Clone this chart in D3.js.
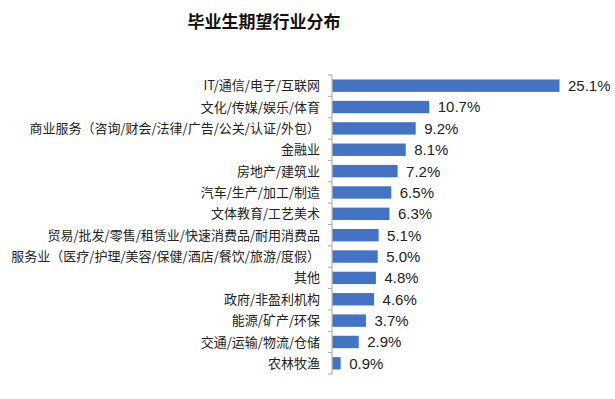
<!DOCTYPE html>
<html>
<head>
<meta charset="utf-8">
<script src="https://cdn.jsdelivr.net/npm/d3@7"></script>
<style>
  body { margin: 0; background: #fff; }
  text { font-family: "Noto Sans CJK SC", "Liberation Sans", sans-serif; }
</style>
</head>
<body>
<div class="graph"></div>
<script>
var categories = [
    'IT/通信/电子/互联网',
    '文化/传媒/娱乐/体育',
    '商业服务（咨询/财会/法律/广告/公关/认证/外包）',
    '金融业',
    '房地产/建筑业',
    '汽车/生产/加工/制造',
    '文体教育/工艺美术',
    '贸易/批发/零售/租赁业/快速消费品/耐用消费品',
    '服务业（医疗/护理/美容/保健/酒店/餐饮/旅游/度假）',
    '其他',
    '政府/非盈利机构',
    '能源/矿产/环保',
    '交通/运输/物流/仓储',
    '农林牧渔'
];
var values = [25.1, 10.7, 9.2, 8.1, 7.2, 6.5, 6.3, 5.1, 5.0, 4.8, 4.6, 3.7, 2.9, 0.9];
var title = '毕业生期望行业分布';

var width = 615, height = 399;
var axisX = 332, plotTop = 75, plotBottom = 374;

var svg = d3.select('.graph').append('svg')
    .attr('width', width)
    .attr('height', height);

svg.append('text')
    .attr('x', 264)
    .attr('y', 28)
    .attr('text-anchor', 'middle')
    .attr('font-size', 17)
    .attr('font-weight', 'bold')
    .attr('fill', '#111')
    .text(title);

var xScale = d3.scaleLinear()
    .domain([0, 25.1])
    .range([axisX, 559]);

var yScale = d3.scaleBand()
    .domain(categories)
    .range([plotTop, plotBottom])
    .paddingInner(0.42)
    .paddingOuter(0.21);

// axis line with ticks between categories
var boundaries = d3.range(categories.length + 1).map(function(i) {
    return plotTop + i * (plotBottom - plotTop) / categories.length;
});

svg.append('line')
    .attr('x1', axisX).attr('x2', axisX)
    .attr('y1', plotTop).attr('y2', plotBottom)
    .attr('stroke', '#a6a6a6');

svg.selectAll('.tick')
    .data(boundaries)
    .enter()
    .append('line')
    .attr('x1', axisX - 4).attr('x2', axisX)
    .attr('y1', function(d) { return d; })
    .attr('y2', function(d) { return d; })
    .attr('stroke', '#a6a6a6');

svg.selectAll('.bar')
    .data(values)
    .enter()
    .append('rect')
    .attr('x', axisX + 0.5)
    .attr('y', function(d, i) { return yScale(categories[i]); })
    .attr('width', function(d) { return xScale(d) - axisX; })
    .attr('height', yScale.bandwidth())
    .attr('fill', '#4472c4');

svg.selectAll('.cat')
    .data(categories)
    .enter()
    .append('text')
    .attr('x', 320)
    .attr('y', function(d) { return yScale(d) + yScale.bandwidth() / 2; })
    .attr('dy', '0.35em')
    .attr('text-anchor', 'end')
    .attr('font-size', 13)
    .attr('fill', '#222')
    .text(function(d) { return d; });

svg.selectAll('.val')
    .data(values)
    .enter()
    .append('text')
    .attr('x', function(d) { return xScale(d) + 9; })
    .attr('y', function(d, i) { return yScale(categories[i]) + yScale.bandwidth() / 2; })
    .attr('dy', '0.36em')
    .attr('font-size', 15)
    .attr('fill', '#222')
    .style('font-family', '"Liberation Sans", Arial, sans-serif')
    .text(function(d) { return d.toFixed(1) + '%'; });
</script>
</body>
</html>
